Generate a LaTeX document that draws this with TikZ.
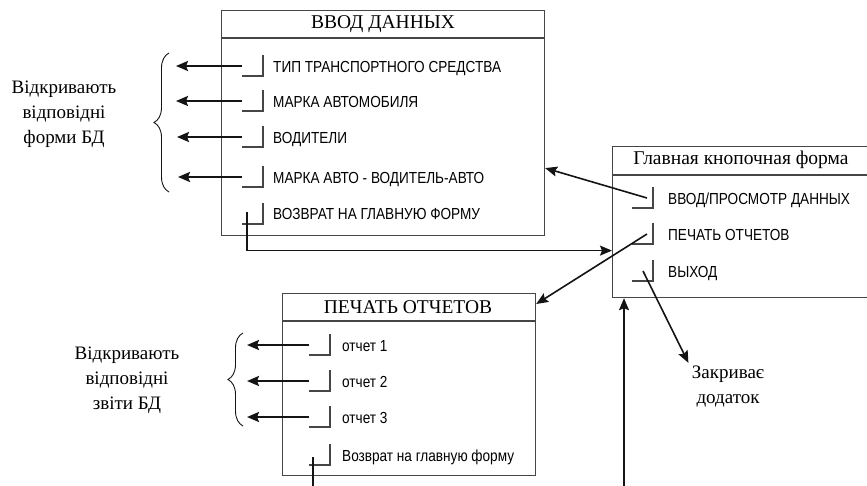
\documentclass[tikz,border=0pt]{standalone}
\usepackage{fontspec}
\setmainfont{Liberation Serif}
\newfontfamily\knopfont[FakeStretch=0.85]{Liberation Sans}
\usepackage{tikz}
\usetikzlibrary{
  arrows.meta,
  positioning,
  calc,
  decorations.pathreplacing
}
\definecolor{lineblack}{RGB}{20,20,20}
\definecolor{framegray}{RGB}{70,70,70}
\tikzset{
  formbox/.style={
    draw=framegray,
    line width=1.2pt,
    rectangle,
    anchor=north west,
    inner sep=0pt
  },
  formtitle/.style={font=\fontsize{19.5}{22}\selectfont,inner sep=0pt},
  itemtext/.style={font=\knopfont\fontsize{16}{18}\selectfont,anchor=base west,inner sep=0pt},
  knopkaline/.style={draw=framegray,line width=1.1pt},
  openarrow/.style={-{Stealth[length=12pt,width=10pt,inset=2pt]},line width=2.2pt,draw=lineblack},
  linkarrow/.style={-{Stealth[length=12pt,width=10pt,inset=2pt]},line width=1.6pt,draw=lineblack},
  linkline/.style={line width=1.6pt,draw=lineblack},
  notetext/.style={align=center,font=\fontsize{19}{25}\selectfont},
  bracebar/.style={decorate,decoration={brace,amplitude=15pt},line width=0.9pt,draw=lineblack},
}
% button mark of a form: bar at x=#2, row centre y=#3
\newcommand{\knopka}[3]{%
  \draw[knopkaline] (#2-21,#3+10) -- (#2,#3+10) -- (#2,#3-11);
  \coordinate (#1) at (#2-21,#3);
}

\begin{document}
\begin{tikzpicture}[x=1pt,y=-1pt]
  \useasboundingbox (0,0) rectangle (867,485);
  \clip (0,0) rectangle (867,485);

  % Form "vvod"
  \node[formbox,minimum width=323pt,minimum height=225pt] (vvod) at (221,10) {};
  \draw[knopkaline] ([yshift=-28pt]vvod.north west) -- ([yshift=-28pt]vvod.north east);
  \node[formtitle] (vvodtitle) at (383,24) {ВВОД ДАННЫХ};
  \node[itemtext] (v1) at (273,72) {ТИП ТРАНСПОРТНОГО СРЕДСТВА};
  \node[itemtext] (v2) at (273,107) {МАРКА АВТОМОБИЛЯ};
  \node[itemtext] (v3) at (273,143) {ВОДИТЕЛИ};
  \node[itemtext] (v4) at (273,183) {МАРКА АВТО - ВОДИТЕЛЬ-АВТО};
  \node[itemtext] (v5) at (273,219) {ВОЗВРАТ НА ГЛАВНУЮ ФОРМУ};
  \knopka{vk1}{263}{66}
  \knopka{vk2}{263}{101}
  \knopka{vk3}{263}{137}
  \knopka{vk4}{263}{177}
  \knopka{vk5}{263}{214}

  % Main form
  \node[formbox,minimum width=262pt,minimum height=151pt] (glav) at (612,146) {};
  \draw[knopkaline] ([yshift=-29pt]glav.north west) -- ([yshift=-29pt]glav.north east);
  \node[formtitle] (glavtitle) at (741,160) {Главная кнопочная форма};
  \node[itemtext] (g1) at (668,204) {ВВОД/ПРОСМОТР ДАННЫХ};
  \node[itemtext] (g2) at (668,240) {ПЕЧАТЬ ОТЧЕТОВ};
  \node[itemtext] (g3) at (668,277) {ВЫХОД};
  \knopka{gk1}{653}{198}
  \knopka{gk2}{653}{234}
  \knopka{gk3}{653}{271}

  % Form "pechat"
  \node[formbox,minimum width=253pt,minimum height=182pt] (pechat) at (282,293) {};
  \draw[knopkaline] ([yshift=-28pt]pechat.north west) -- ([yshift=-28pt]pechat.north east);
  \node[formtitle] (pechattitle) at (408,307) {ПЕЧАТЬ ОТЧЕТОВ};
  \node[itemtext] (p1) at (342,351) {отчет 1};
  \node[itemtext] (p2) at (342,387) {отчет 2};
  \node[itemtext] (p3) at (342,423) {отчет 3};
  \node[itemtext] (p4) at (342,461) {Возврат на главную форму};
  \knopka{pk1}{330}{345}
  \knopka{pk2}{330}{381}
  \knopka{pk3}{330}{417}
  \knopka{pk4}{330}{455}

  % Notes and braces
  \node[notetext] (vnote) at (64,114) {Відкривають\\відповідні\\форми БД};
  \node[notetext] (pnote) at (127,380) {Відкривають\\відповідні\\звіти БД};
  \node[notetext] (znote) at (728,387) {Закриває\\додаток};
  \draw[bracebar] (169,192) -- (169,53);
  \draw[bracebar] (243,426) -- (243,333);

  % Arrows out of the forms
  \draw[openarrow] (vk1) -- ++(-66,0);
  \draw[openarrow] (vk2) -- ++(-66,0);
  \draw[openarrow] (vk3) -- ++(-65,0);
  \draw[openarrow] (vk4) -- ++(-64,0);
  \draw[openarrow] (pk1) -- ++(-62,0);
  \draw[openarrow] (pk2) -- ++(-62,0);
  \draw[openarrow] (pk3) -- ++(-62,0);

  % Links between forms
  \draw[linkarrow] ([xshift=15pt]gk1) -- ([yshift=-45pt]vvod.east);
  \draw[linkarrow] ([xshift=15pt]gk2) -- ([yshift=-11pt]pechat.north east);
  \draw[linkarrow] ([xshift=11pt]gk3) -- (znote.north west);
  \draw[linkarrow] ([xshift=5pt,yshift=2pt]vk5) |- ([yshift=-28.5pt]glav.west);
  \draw[linkline] ([xshift=4pt,yshift=-2pt]pk4) -- ++(0,40);
  \coordinate (niz) at (624,490);
  \draw[linkarrow] (niz) -- (niz |- glav.south);
\end{tikzpicture}
\end{document}
